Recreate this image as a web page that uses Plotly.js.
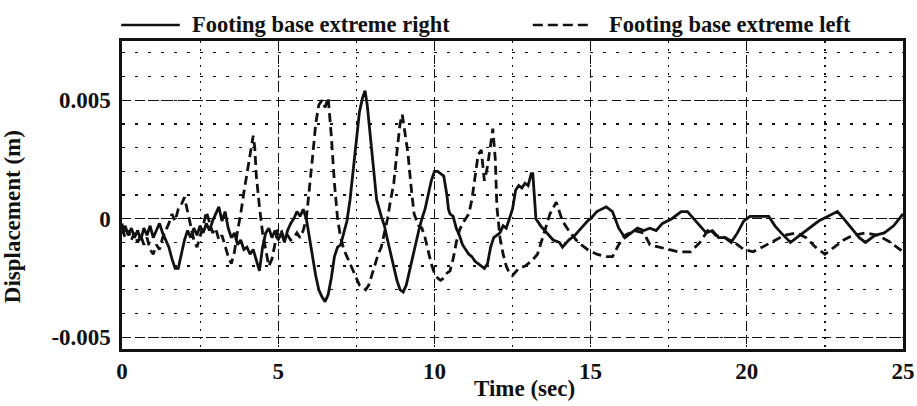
<!DOCTYPE html>
<html>
<head>
<meta charset="utf-8">
<script src="https://cdn.plot.ly/plotly-3.0.1.min.js"></script>
<style>html,body{margin:0;padding:0;background:#fff;}#chart{width:917px;height:406px;}</style>
</head>
<body>
<div id="chart"></div>
<script>
// Footing base extreme right (solid)
const tRight = [0.0,0.05,0.1,0.2,0.3,0.4,0.5,0.6,0.7,0.8,0.9,1.0,1.1,1.2,1.3,1.4,1.5,1.6,1.7,1.8,1.9,2.0,2.1,2.2,2.3,2.4,2.5,2.6,2.7,2.8,2.9,3.0,3.1,3.2,3.3,3.4,3.5,3.6,3.7,3.8,3.9,4.0,4.1,4.2,4.3,4.4,4.5,4.6,4.7,4.8,4.9,5.0,5.1,5.2,5.3,5.4,5.5,5.6,5.7,5.8,5.9,6.0,6.1,6.2,6.3,6.4,6.5,6.6,6.7,6.8,6.9,7.0,7.1,7.2,7.3,7.4,7.5,7.6,7.7,7.78,7.85,7.95,8.05,8.15,8.3,8.4,8.5,8.6,8.7,8.8,8.9,9.0,9.1,9.2,9.3,9.4,9.5,9.6,9.7,9.8,9.9,10.0,10.1,10.2,10.3,10.4,10.45,10.5,10.6,10.7,10.8,10.9,11.0,11.1,11.2,11.3,11.4,11.5,11.6,11.7,11.8,11.9,12.0,12.1,12.2,12.3,12.4,12.5,12.6,12.7,12.8,12.9,13.0,13.1,13.15,13.25,13.4,13.6,13.8,14.0,14.1,14.3,14.5,14.7,14.9,15.0,15.2,15.5,15.7,15.9,16.1,16.3,16.5,16.7,16.9,17.1,17.3,17.6,17.9,18.1,18.3,18.5,18.7,18.9,19.1,19.3,19.5,19.7,19.9,20.1,20.4,20.7,20.9,21.1,21.4,21.7,22.0,22.3,22.6,22.9,23.1,23.4,23.6,23.8,24.1,24.4,24.7,25.0];
const dRight = [-0.0002,-0.0006,-0.0003,-0.0007,-0.0004,-0.0008,-0.0005,-0.0009,-0.0004,-0.0007,-0.0003,-0.0008,-0.0005,-0.0002,-0.0006,-0.0009,-0.0012,-0.0017,-0.0021,-0.0021,-0.0015,-0.0009,-0.0005,-0.0008,-0.0004,-0.0007,-0.0003,-0.0006,-0.0002,-0.0005,-0.0001,0.0002,0.0005,-0.0001,0.0003,-0.0004,-0.0008,-0.0006,-0.0011,-0.0009,-0.0013,-0.0012,-0.0015,-0.0013,-0.0018,-0.0022,-0.0012,-0.0006,-0.0004,-0.0008,-0.0005,-0.0009,-0.0006,-0.0010,-0.0005,-0.0002,0.0,0.0003,0.0001,0.0004,0.0,-0.0008,-0.0016,-0.0024,-0.0030,-0.0033,-0.0035,-0.0032,-0.0025,-0.0016,-0.0012,-0.0011,-0.0006,-0.0001,0.0008,0.0020,0.0033,0.0045,0.0051,0.0054,0.0048,0.0035,0.0020,0.0008,0.0001,-0.0003,-0.0009,-0.0015,-0.0021,-0.0026,-0.0030,-0.0031,-0.0028,-0.0022,-0.0016,-0.0011,-0.0005,0.0,0.0004,0.0010,0.0016,0.0020,0.0020,0.0019,0.0018,0.0010,0.0004,0.0002,0.0001,-0.0004,-0.0007,-0.0011,-0.0013,-0.0015,-0.0016,-0.0018,-0.0019,-0.0020,-0.0021,-0.0019,-0.0012,-0.0008,-0.0007,-0.0006,-0.0003,-0.0004,0.0,0.0004,0.0012,0.0014,0.0013,0.0015,0.0014,0.0019,0.0019,0.0,-0.0003,-0.0006,-0.0009,-0.0010,-0.0012,-0.0009,-0.0007,-0.0004,-0.0001,0.0,0.0003,0.0005,0.0003,-0.0004,-0.0008,-0.0006,-0.0004,-0.0005,-0.0004,-0.0005,-0.0002,0.0,0.0003,0.0003,0.0,-0.0003,-0.0006,-0.0005,-0.0008,-0.0008,-0.0010,-0.0006,-0.0001,0.0001,0.0001,0.0001,-0.0003,-0.0006,-0.0010,-0.0007,-0.0004,-0.0001,0.0001,0.0003,0.0,-0.0005,-0.0008,-0.0010,-0.0007,-0.0006,-0.0003,0.0002];

// Footing base extreme left (dashed)
const tLeft = [0.0,0.1,0.2,0.3,0.4,0.5,0.6,0.7,0.8,0.9,1.0,1.1,1.2,1.3,1.4,1.5,1.6,1.7,1.8,1.9,2.0,2.1,2.2,2.3,2.4,2.5,2.6,2.7,2.8,2.9,3.0,3.1,3.2,3.3,3.4,3.5,3.6,3.7,3.8,3.9,4.0,4.1,4.2,4.25,4.3,4.4,4.5,4.6,4.7,4.8,4.9,5.0,5.1,5.2,5.3,5.4,5.5,5.6,5.7,5.8,5.9,6.0,6.1,6.2,6.3,6.4,6.5,6.6,6.7,6.8,6.9,7.0,7.1,7.2,7.3,7.4,7.5,7.6,7.7,7.8,7.9,8.0,8.1,8.2,8.3,8.4,8.5,8.6,8.7,8.8,8.9,8.97,9.05,9.15,9.25,9.35,9.5,9.6,9.7,9.8,9.9,10.0,10.1,10.2,10.3,10.4,10.5,10.6,10.7,10.8,10.9,11.0,11.1,11.2,11.3,11.4,11.5,11.6,11.7,11.8,11.87,11.95,12.0,12.1,12.2,12.3,12.4,12.5,12.7,12.9,13.1,13.3,13.5,13.7,13.9,14.1,14.3,14.6,14.9,15.2,15.5,15.7,15.9,16.1,16.4,16.7,16.9,17.2,17.5,17.8,18.2,18.5,18.8,19.0,19.3,19.6,19.9,20.2,20.5,20.8,21.2,21.6,21.9,22.2,22.5,22.8,23.1,23.4,23.8,24.2,24.6,25.0];
const dLeft = [-0.0004,-0.0008,-0.0005,-0.0009,-0.0006,-0.0010,-0.0007,-0.0011,-0.0008,-0.0013,-0.0015,-0.0011,-0.0013,-0.0008,-0.0005,-0.0002,0.0002,-0.0001,0.0004,0.0006,0.0009,0.0003,-0.0004,-0.0009,-0.0012,-0.0008,-0.0003,0.0003,-0.0002,-0.0006,-0.0004,-0.0009,-0.0007,-0.0012,-0.0016,-0.0019,-0.0014,-0.0005,0.0002,0.0011,0.0019,0.0028,0.0035,0.0030,0.0018,0.0005,-0.0006,-0.0013,-0.0020,-0.0017,-0.0010,-0.0004,-0.0005,-0.0009,-0.0007,-0.0009,-0.0008,-0.0006,-0.0008,-0.0005,0.0,0.0012,0.0026,0.0040,0.0048,0.0050,0.0047,0.0051,0.0035,0.0015,0.0,-0.0008,-0.0013,-0.0016,-0.0019,-0.0022,-0.0025,-0.0028,-0.0029,-0.0030,-0.0028,-0.0024,-0.0019,-0.0015,-0.0012,-0.0006,0.0,0.0008,0.0015,0.0028,0.0040,0.0044,0.0037,0.0028,0.0014,0.0002,-0.0003,-0.0004,-0.0008,-0.0014,-0.0019,-0.0023,-0.0025,-0.0026,-0.0025,-0.0023,-0.0022,-0.0017,-0.0010,-0.0005,-0.0002,0.0,0.0002,0.0008,0.0018,0.0027,0.0029,0.0016,0.0022,0.0032,0.0038,0.0025,0.0005,-0.0008,-0.0015,-0.0020,-0.0023,-0.0024,-0.0021,-0.0020,-0.0018,-0.0015,-0.0007,0.0002,0.0007,-0.0001,-0.0005,-0.0010,-0.0013,-0.0015,-0.0016,-0.0016,-0.0011,-0.0007,-0.0005,-0.0006,-0.0011,-0.0012,-0.0013,-0.0014,-0.0014,-0.0010,-0.0004,-0.0007,-0.0008,-0.0010,-0.0013,-0.0014,-0.0012,-0.0010,-0.0007,-0.0006,-0.0008,-0.0012,-0.0015,-0.0012,-0.0009,-0.0007,-0.0006,-0.0007,-0.0010,-0.0014];

const seriesNames = ["Footing base extreme right", "Footing base extreme left"];
const xTickVals = [0, 5, 10, 15, 20, 25];
const xTickText = ["0", "5", "10", "15", "20", "25"];
const yTickVals = [-0.005, 0, 0.005];
const yTickText = ["-0.005", "0", "0.005"];

const FONT = "Liberation Serif, Times New Roman, serif";
const tickFont = {family: FONT, size: 23, color: "#111", weight: 700};
const titleFont = {family: FONT, size: 23, color: "#111", weight: 700};

const traces = [
  {x: tRight, y: dRight, type: "scatter", mode: "lines", name: seriesNames[0],
   line: {color: "#111", width: 2.8}, showlegend: false},
  {x: tLeft, y: dLeft, type: "scatter", mode: "lines", name: seriesNames[1],
   line: {color: "#111", width: 2.8, dash: "9px,5px"}, showlegend: false}
];

const layout = {
  width: 917, height: 406,
  margin: {l: 122, r: 14, t: 41, b: 57},
  paper_bgcolor: "#fff", plot_bgcolor: "#fff",
  showlegend: false,
  xaxis: {
    range: [0, 25], tickvals: xTickVals, ticktext: xTickText,
    showgrid: true, gridcolor: "#111", gridwidth: 1.2, griddash: "9px,5px",
    minor: {dtick: 2.5, tick0: 0, showgrid: true, gridcolor: "#111", gridwidth: 1.2, griddash: "2px,6px"},
    showline: true, linecolor: "#111", linewidth: 2.6, mirror: true,
    ticks: "", zeroline: false, tickfont: tickFont
  },
  yaxis: {
    range: [-0.0055, 0.0075], tickvals: yTickVals, ticktext: yTickText,
    showgrid: true, gridcolor: "#111", gridwidth: 1.2, griddash: "9px,5px",
    minor: {dtick: 0.001, tick0: 0, showgrid: true, gridcolor: "#111", gridwidth: 1.2, griddash: "3px,10px"},
    showline: true, linecolor: "#111", linewidth: 2.6, mirror: true,
    ticks: "", zeroline: false, tickfont: tickFont, ticklabelstandoff: 4
  },
  shapes: [
    {type: "line", xref: "paper", yref: "paper", x0: -0.001, x1: 0.074, y0: 1.052, y1: 1.052,
     line: {color: "#111", width: 2.6}},
    {type: "line", xref: "paper", yref: "paper", x0: 0.526, x1: 0.599, y0: 1.052, y1: 1.052,
     line: {color: "#111", width: 2.6, dash: "10px,5px"}}
  ],
  annotations: [
    {xref: "paper", yref: "paper", x: 0.087, y: 1.052, xanchor: "left", yanchor: "middle",
     text: seriesNames[0], showarrow: false, font: {family: FONT, size: 22.5, color: "#111", weight: 700}},
    {xref: "paper", yref: "paper", x: 0.621, y: 1.052, xanchor: "left", yanchor: "middle",
     text: seriesNames[1], showarrow: false, font: {family: FONT, size: 22.5, color: "#111", weight: 700}},
    {xref: "paper", yref: "paper", x: 0.515, y: -0.127, xanchor: "center", yanchor: "middle",
     text: "Time (sec)", showarrow: false, font: titleFont},
    {xref: "paper", yref: "paper", x: -0.14, y: 0.43, xanchor: "center", yanchor: "middle",
     text: "Displacement (m)", textangle: -90, showarrow: false, font: titleFont}
  ]
};

Plotly.newPlot("chart", traces, layout, {displayModeBar: false, staticPlot: true});
</script>
</body>
</html>
